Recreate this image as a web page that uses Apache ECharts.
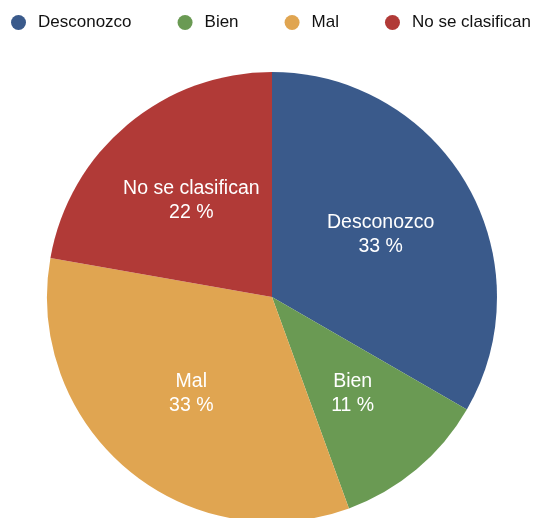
<!DOCTYPE html>
<html>
<head>
<meta charset="utf-8">
<script src="https://cdn.jsdelivr.net/npm/echarts@6/dist/echarts.min.js"></script>
<style>
  html, body { margin: 0; padding: 0; background: #fff; }
  #chart { width: 533px; height: 518px; }
</style>
</head>
<body>
<div id="chart"></div>
<script>
const categories = ['Desconozco', 'Bien', 'Mal', 'No se clasifican']
const values = [33, 11, 33, 22]
const colors = ['#3a5a8b', '#6a9a53', '#e0a551', '#b13a37']

const chart = echarts.init(document.getElementById('chart'))

const pieData = categories.map((name, i) => ({ name, value: values[i] }))

chart.setOption({
  animation: false,
  color: colors,
  legend: {
    top: 9,
    left: 6,
    width: 527,
    padding: 5,
    icon: 'circle',
    itemWidth: 15,
    itemHeight: 15,
    itemGap: 46,
    textStyle: {
      fontFamily: 'Liberation Sans, Arial',
      fontSize: 17,
      color: '#111',
      padding: [0, 0, 0, 7]
    },
    data: categories
  },
  series: [
    {
      type: 'pie',
      center: [272, 297],
      radius: 225,
      startAngle: 90,
      clockwise: true,
      label: { show: false },
      labelLine: { show: false },
      itemStyle: { borderWidth: 0 },
      emphasis: { disabled: true },
      data: pieData
    },
    {
      // label layer only, pushed a bit further out like the reference
      type: 'pie',
      center: [272, 297],
      radius: [20, 225],
      startAngle: 90,
      clockwise: true,
      silent: true,
      label: {
        position: 'inside',
        formatter: (p) => `${p.name}\n${Math.round(p.percent)} %`,
        color: '#fff',
        fontFamily: 'Liberation Sans, Arial',
        fontSize: 19.5,
        lineHeight: 24
      },
      labelLine: { show: false },
      itemStyle: { color: 'transparent', borderWidth: 0 },
      emphasis: { disabled: true },
      data: pieData
    }
  ]
})
</script>
</body>
</html>
